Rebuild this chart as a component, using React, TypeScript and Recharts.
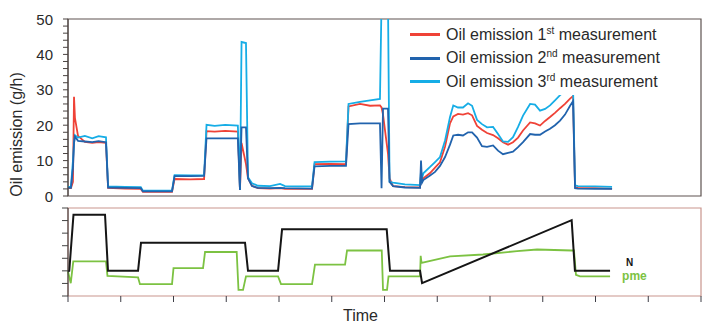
import React from 'react';
import { LineChart, Line, XAxis, YAxis, ReferenceArea, Legend } from 'recharts';

const FONT = '"Liberation Sans", Arial, Helvetica, sans-serif';
const RED = '#ef4237';
const BLUE = '#2163ad';
const CYAN = '#16ade6';
const BLACK = '#151515';
const GREEN = '#7cc242';

// ---- top panel: oil emission (g/h) over time ----
const topTime = [0, 2.8, 4.7, 5.7, 6.6, 9.5, 16, 23, 29, 36, 38, 54, 69, 71, 87, 98.6, 101, 116, 129, 131.3, 139, 149, 161, 163, 164.5, 168.7, 170.6, 174.4, 180, 191.5, 201, 205.7, 231.3, 233.7, 248.4, 263.5, 265.9, 276.8, 286.3, 295.7, 297.2, 298.6, 303.3, 304.8, 308.1, 319.4, 333.7, 334.6, 335.6, 336.8, 343.2, 347.9, 352.6, 357.4, 362.1, 365.2, 369.7, 374.4, 379.2, 383, 387.7, 392.4, 397.2, 402.9, 407.6, 412.3, 417.1, 421.8, 426.6, 431.3, 438, 442.7, 447.4, 452.2, 456.9, 461.6, 466.4, 471.1, 475.9, 478.7, 480.6, 483.4, 499.5, 515.7];
const emission1 = [2.2, 2.2, 4, 28, 22, 17, 15.3, 15.0, 15.2, 15.0, 2.3, 2.1, 2.0, 1.2, 1.2, 1.2, 4.8, 4.7, 4.8, 18.3, 18.2, 18.4, 18.2, 1.7, 15, 9, 5, 2.9, 2.2, 2.1, 2.2, 2.0, 2.0, 9.0, 9.1, 9.0, 25.3, 26, 25.5, 25.6, 25, 23, 12, 5, 2.8, 2.5, 2.4, 6, 4.3, 5, 6.5, 8, 9.5, 14, 20.5, 22.5, 23.2, 23, 23.4, 22.8, 19.8, 18.7, 17.8, 17.2, 16.3, 15.2, 14.5, 15.2, 16.5, 18.5, 20.8, 20.5, 19.9, 21.2, 22.3, 23.5, 24.8, 26, 27.5, 28.2, 2.5, 2.3, 2.2, 2.1];
const emission2 = [2.3, 2.3, 8, 15, 16.8, 15.6, 15.4, 15.2, 15.5, 15.2, 2.4, 2.3, 2.2, 1.3, 1.3, 1.3, 5.6, 5.6, 5.7, 16.3, 16.3, 16.3, 16.3, 1.7, 19.4, 19.4, 5, 2.8, 2.3, 2.2, 2.3, 2.2, 2.1, 8.4, 8.5, 8.5, 20.3, 20.5, 20.5, 20.5, 2.2, 24.7, 24.7, 4, 2.8, 2.4, 2.3, 10, 3.8, 4.5, 5.8, 6.8, 8.5, 11, 14.5, 17.1, 17.3, 17.1, 18, 18, 16.5, 14.1, 13.9, 14.3, 12.8, 11.8, 12.2, 12.5, 13.8, 15.2, 17.5, 17.3, 17.3, 18.2, 19, 20, 21.3, 23, 25.5, 26.8, 2.2, 2.1, 2.0, 2.0];
const emission3 = [2.6, 2.6, 10, 15, 17.2, 16.5, 17.0, 16.3, 16.9, 16.6, 2.7, 2.6, 2.5, 1.5, 1.5, 1.5, 5.9, 5.8, 5.9, 20.1, 19.8, 20.1, 19.9, 1.7, 43.5, 43.2, 5.3, 3.6, 2.9, 2.8, 3.4, 2.8, 2.7, 9.6, 9.7, 9.8, 26, 26.6, 27, 27.4, 55, 55, 55, 4, 3.8, 3.3, 3.1, 7, 5.0, 6.4, 8.2, 9.6, 11, 15.7, 22.3, 25.6, 25, 25, 26.2, 25.5, 21.5, 20.3, 19.4, 19.5, 17.5, 15.4, 15.3, 16.6, 19.5, 22.7, 26, 25.8, 24.1, 24.6, 25.6, 27, 28.5, 29.5, 30.5, 31, 3.0, 2.8, 2.7, 2.6];
const yTicksTop = [0, 2, 4, 6, 8, 10, 12, 14, 16, 18, 20, 22, 24, 26, 28, 30, 32, 34, 36, 38, 40, 42, 44, 46, 48, 50];
const yLabelTicks = [0, 10, 20, 30, 40, 50];
const legendOrdinals = ['1', '2', '3'];
const legendSups = ['st', 'nd', 'rd'];

// ---- bottom panel: engine speed N and pme ----
const nTime = [0, 1.2, 5.2, 35.1, 37.9, 66.4, 69.2, 167.8, 170.6, 199.1, 202.9, 302.1, 305.2, 333.7, 335.6, 477.4, 480.5, 513.8];
const nValues = [1.96, 2.0, 6.46, 6.46, 2.0, 2.0, 4.24, 4.24, 2.0, 2.0, 5.3, 5.3, 2.0, 2.0, 1.02, 6.03, 2.0, 2.0];
const pmeTime = [0, 2.6, 5.0, 36.0, 37.4, 66.4, 68.2, 98.6, 100.0, 128.0, 129.9, 159.9, 161.6, 165.9, 168.7, 199.1, 201.9, 231.3, 234.1, 262.6, 264.5, 297.4, 298.6, 302.4, 303.8, 333.7, 334.3, 335.1, 362.1, 393.4, 425.6, 444.6, 477.4, 479.6, 481.5, 485.3, 513.8];
const pmeValues = [1.96, 1.02, 2.76, 2.76, 1.6, 1.48, 0.94, 0.94, 2.22, 2.22, 3.5, 3.5, 0.48, 0.48, 1.56, 1.56, 0.94, 0.94, 2.5, 2.5, 3.62, 3.62, 0.48, 0.48, 1.56, 1.56, 3.2, 2.63, 3.16, 3.3, 3.57, 3.7, 3.62, 3.62, 1.69, 1.56, 1.56];
const yTicksBottom = [0, 1, 2, 3, 4, 5, 6, 7];
const xTicks = [0, 50, 100, 150, 200, 250, 300, 350, 400, 450, 500, 550, 600];

const topData = topTime.map((t, i) => ({ t, e1: emission1[i], e2: emission2[i], e3: emission3[i] }));
const nData = nTime.map((t, i) => ({ t, v: nValues[i] }));
const pmeData = pmeTime.map((t, i) => ({ t, v: pmeValues[i] }));

const legendColors = [RED, BLUE, CYAN];

const TopTick = (props: any) => {
  const { x, y, payload } = props;
  if (!yLabelTicks.includes(payload.value)) return <g />;
  return (
    <text x={x} y={y} textAnchor="end" dominantBaseline="central" fontSize={15} fill="#2a2a2a" fontFamily={FONT}>
      {payload.value}
    </text>
  );
};

const EmptyTick = () => <g />;

const YTitle = (props: any) => {
  const vb = props.viewBox || { x: 8, y: 19, width: 60, height: 177 };
  const cx = vb.x + 8;
  const cy = vb.y + vb.height / 2 + 27;
  return (
    <text x={cx} y={cy} transform={`rotate(-90 ${cx} ${cy})`} textAnchor="middle" dominantBaseline="central" fontSize={16} fill="#2a2a2a" fontFamily={FONT}>
      Oil emission (g/h)
    </text>
  );
};

const TimeTitle = (props: any) => {
  const vb = props.viewBox || { x: 68, y: 296, width: 633, height: 29 };
  return (
    <text x={vb.x + vb.width / 2 - 24} y={vb.y + 25} textAnchor="middle" fontSize={16} fill="#2a2a2a" fontFamily={FONT}>
      Time
    </text>
  );
};

const LegendContent = () => (
  <div style={{ fontFamily: FONT, fontSize: 16, color: '#2a2a2a' }}>
    {legendOrdinals.map((o, i) => (
      <div key={o} style={{ display: 'flex', alignItems: 'center', height: 23.5, whiteSpace: 'nowrap' }}>
        <span style={{ display: 'inline-block', width: 30, height: 3, background: legendColors[i], marginRight: 6 }} />
        <span>
          Oil emission {o}
          <span style={{ fontSize: 10, position: 'relative', top: -6 }}>{legendSups[i]}</span> measurement
        </span>
      </div>
    ))}
  </div>
);

const endLabel = (text: string, color: string, len: number, dx: number, dy: number, size: number) => (p: any) => {
  if (p.index !== len - 1) return null;
  return (
    <text key={text} x={p.x + dx} y={p.y + dy} fontSize={size} fontWeight="bold" fill={color} fontFamily={FONT}>
      {text}
    </text>
  );
};

export default function App() {
  return (
    <div style={{ position: 'absolute', left: 0, top: 0, width: 702, height: 325, background: '#fff', fontFamily: FONT }}>
      <div style={{ position: 'absolute', left: 0, top: 0 }}>
        <LineChart width={702} height={206} data={topData} margin={{ top: 19, right: 1, bottom: 10, left: 8 }}>
          <XAxis dataKey="t" type="number" domain={[0, 600]} hide />
          <YAxis
            type="number"
            domain={[0, 50]}
            ticks={yTicksTop}
            interval={0}
            allowDataOverflow
            width={60}
            tickSize={5}
            tickMargin={10}
            tick={<TopTick />}
            axisLine={{ stroke: '#4a4341' }}
            tickLine={{ stroke: '#4a4341' }}
            label={<YTitle />}
          />
          <ReferenceArea x1={0} x2={600} y1={0} y2={50} fill="none" stroke="#5e5350" strokeWidth={1.2} ifOverflow="visible" />
          <Line dataKey="e1" stroke={RED} strokeWidth={1.8} dot={false} isAnimationActive={false} />
          <Line dataKey="e3" stroke={CYAN} strokeWidth={1.8} dot={false} isAnimationActive={false} />
          <Line dataKey="e2" stroke={BLUE} strokeWidth={1.8} dot={false} isAnimationActive={false} />
          <Legend
            layout="horizontal"
            verticalAlign="middle"
            align="center"
            content={<LegendContent />}
            wrapperStyle={{ top: 23, left: 404, width: 288, height: 72, paddingLeft: 6, background: '#fff' }}
          />
        </LineChart>
      </div>
      <div style={{ position: 'absolute', left: 0, top: 200 }}>
        <LineChart width={702} height={125} margin={{ top: 8, right: 1, bottom: 0, left: 8 }}>
          <XAxis
            dataKey="t"
            type="number"
            domain={[0, 600]}
            ticks={xTicks}
            interval={0}
            height={29}
            tickSize={6}
            axisLine={false}
            tick={<EmptyTick />}
            tickLine={{ stroke: '#3d3d45' }}
            label={<TimeTitle />}
          />
          <YAxis
            type="number"
            domain={[0, 7]}
            ticks={yTicksBottom}
            interval={0}
            width={60}
            tickSize={6}
            tick={<EmptyTick />}
            axisLine={{ stroke: '#333' }}
            tickLine={{ stroke: '#444' }}
          />
          <ReferenceArea x1={0} x2={600} y1={0} y2={7} fill="none" stroke="#c9958d" strokeWidth={1.2} ifOverflow="visible" />
          <Line
            data={pmeData}
            dataKey="v"
            stroke={GREEN}
            strokeWidth={1.8}
            dot={false}
            isAnimationActive={false}
            label={endLabel('pme', GREEN, pmeData.length, 12, 4, 12)}
          />
          <Line
            data={nData}
            dataKey="v"
            stroke={BLACK}
            strokeWidth={2}
            dot={false}
            isAnimationActive={false}
            label={endLabel('N', BLACK, nData.length, 16, -4.5, 10)}
          />
        </LineChart>
      </div>
    </div>
  );
}
